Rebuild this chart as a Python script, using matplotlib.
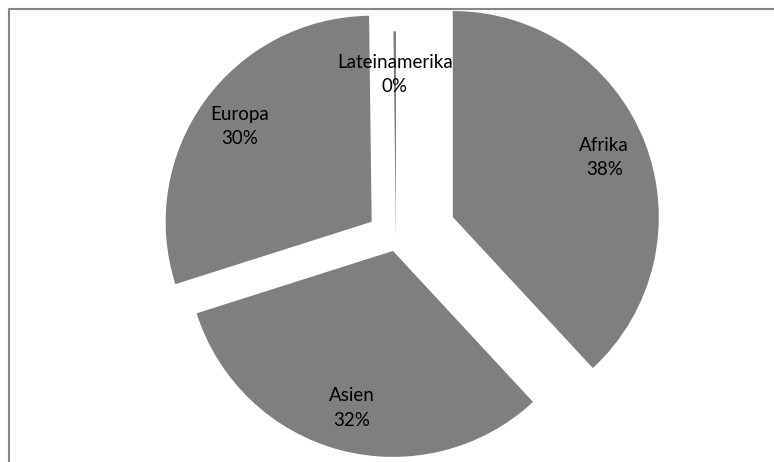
import matplotlib.pyplot as plt

regions = ['Afrika', 'Asien', 'Europa', 'Lateinamerika']
shares = [38.1, 32.0, 29.7, 0.2]
offsets = [61, 12, 30, 2]

labels = [f'{r}\n{v / sum(shares):.0%}' for r, v in zip(regions, shares)]

fig = plt.figure(figsize=(7.74, 4.62), dpi=100)
ax = fig.add_axes([0, 0, 1, 1])

ax.pie(shares, labels=labels, explode=offsets, center=(396, 222.7), radius=206,
       startangle=90, counterclock=False, colors=['#7f7f7f'] * len(shares),
       wedgeprops={'linewidth': 0}, labeldistance=0.79,
       textprops={'ha': 'center', 'va': 'center', 'multialignment': 'center',
                  'linespacing': 1.55, 'fontsize': 13.5, 'family': 'Lato',
                  'color': 'black'})

ax.set_xlim(0, 774)
ax.set_ylim(0, 462)
ax.set_aspect('equal')
ax.axis('off')

# chart-area frame along the top and left
ax.plot([8.5, 8.5, 774], [0, 453.5, 453.5], color='#868686', lw=1.5, clip_on=False)

fig.savefig('out.png', dpi=100)
